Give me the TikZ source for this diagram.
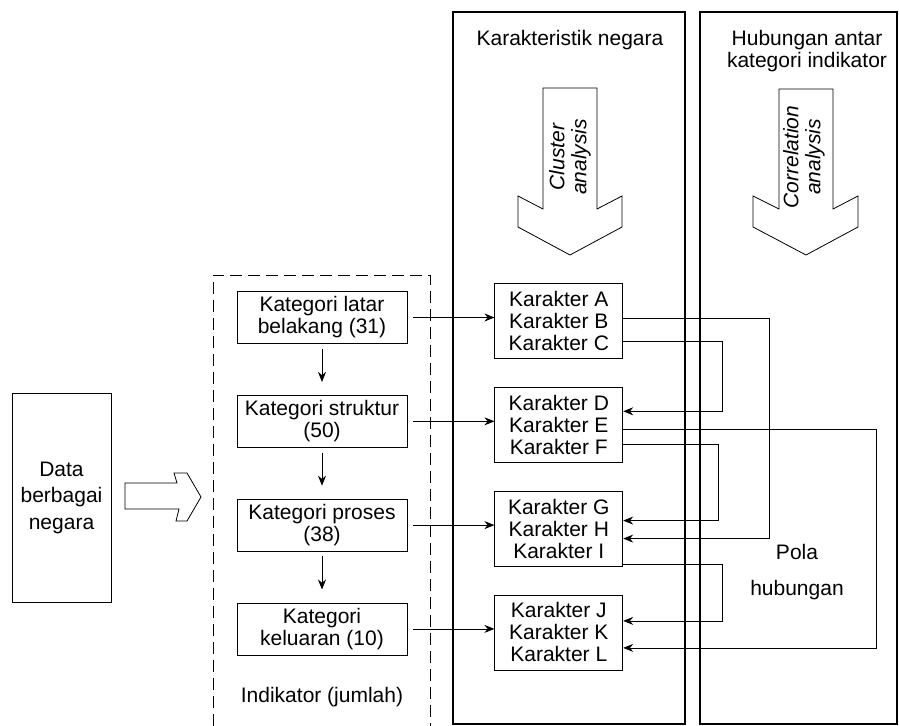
\documentclass[tikz,border=0pt]{standalone}
\usepackage{fontspec}
\setmainfont{Liberation Sans}
\setsansfont{Liberation Sans}
\usepackage{tikz}
\usetikzlibrary{
  arrows.meta,
  positioning   % Function "of" (e.g. [below=of x])
}
\def\mytext{\fontsize{10.5}{11}\selectfont\sffamily}
\def\myvdist{25.5pt}
\def\myhdist{43.5pt}
\tikzset{
  font=\mytext,
  semithick,
  >={Stealth[length=5pt,width=4pt]},
  box/.style={
    draw,
    rectangle,
    align=center,
    inner sep=2pt
  },
  kategori/.style={
    box,
    minimum width=85pt,
    minimum height=26pt
  },
  karakter/.style={
    box,
    minimum width=64pt,
    minimum height=37.5pt
  },
  panel/.style={draw,line width=0.7pt},
  hollow/.style={draw,line join=miter},
  frame/.style={draw,dash pattern=on 6pt off 3pt}
}

\begin{document}
\begin{tikzpicture}[x=0.5pt,y=-0.5pt]
\useasboundingbox (0,0) rectangle (899,726);
% panels
\draw[panel] (453,12) rectangle (685,724);
\draw[panel] (700,12) rectangle (897,724);
\node (karaktitle) at (570,40) {Karakteristik negara};
\node[align=center] (hubtitle) at (807,51) {Hubungan antar\\kategori indikator};
\draw[hollow] (543,88) -- (543,209) -- (518,196) -- (518,227) -- (570,255) -- (622,227) -- (622,196) -- (597,209) -- (597,88) -- cycle;
\draw[hollow] (779,89) -- (779,209) -- (753,196) -- (753,227) -- (806,255) -- (858,227) -- (858,196) -- (833,209) -- (833,89) -- cycle;
\node[rotate=90,align=center,font=\mytext\itshape] (cluster) at (570,157) {Cluster\\analysis};
\node[rotate=90,align=center,font=\mytext\itshape] (correl) at (804,157) {Correlation\\analysis};
\node[align=center] (pola) at (797,572) {Pola\\[7pt]hubungan};
% input
\node[box,minimum width=49.5pt,minimum height=104.5pt] (data) at (61.5,497.5) {Data\\[2.25pt]berbagai\\[2.25pt]negara};
\draw[hollow] (125,483) -- (177,483) -- (174,473) -- (187,473) -- (201,497) -- (187,521) -- (176,521) -- (179,509) -- (125,509) -- cycle;
% indikator
\draw[frame] (213,726) -- (213,275) -- (430,275) -- (430,726);
\node[kategori] (kat1) at (322,317.5) {Kategori latar\\belakang (31)};
\node[kategori] (kat2) [below=\myvdist of kat1] {Kategori struktur\\(50)};
\node[kategori] (kat3) [below=\myvdist of kat2] {Kategori proses\\(38)};
\node[kategori] (kat4) [below=\myvdist of kat3] {Kategori\\keluaran (10)};
\node (indikator) at (322,697) {Indikator (jumlah)};
\path[->,shorten <=2.5pt,shorten >=6.5pt] (kat1) edge (kat2)
          (kat2) edge (kat3)
          (kat3) edge (kat4);
% karakter
\node[karakter,yshift=-1.75pt] (kar1) [right=\myhdist of kat1] {Karakter A\\Karakter B\\Karakter C};
\node[karakter,yshift=-1.75pt] (kar2) [right=\myhdist of kat2] {Karakter D\\Karakter E\\Karakter F};
\node[karakter,yshift=-1.75pt] (kar3) [right=\myhdist of kat3] {Karakter G\\Karakter H\\Karakter I};
\node[karakter,yshift=-1.75pt] (kar4) [right=\myhdist of kat4] {Karakter J\\Karakter K\\Karakter L};
\draw[->,shorten <=3pt] (kat1.east) -- (kat1.east -| kar1.west);
\draw[->,shorten <=3pt] (kat2.east) -- (kat2.east -| kar2.west);
\draw[->,shorten <=3pt] (kat3.east) -- (kat3.east -| kar3.west);
\draw[->,shorten <=3pt] (kat4.east) -- (kat4.east -| kar4.west);
% pola hubungan
\draw[->] ([yshift=1.25pt]kar1.east) -- ++(73pt,0) |- ([yshift=-5pt]kar3.east);
\draw[->] ([yshift=-10.25pt]kar1.east) -- ++(49.5pt,0) |- ([yshift=6.75pt]kar2.east);
\draw[->] ([yshift=-2.25pt]kar2.east) -- ++(126.5pt,0) |- ([yshift=-7.75pt]kar4.east);
\draw[->] ([yshift=-9.75pt]kar2.east) -- ++(47.5pt,0) |- ([yshift=4pt]kar3.east);
\draw[->] ([yshift=-18pt]kar3.east) -- ++(49.5pt,0) |- ([yshift=5.75pt]kar4.east);
\end{tikzpicture}
\end{document}
